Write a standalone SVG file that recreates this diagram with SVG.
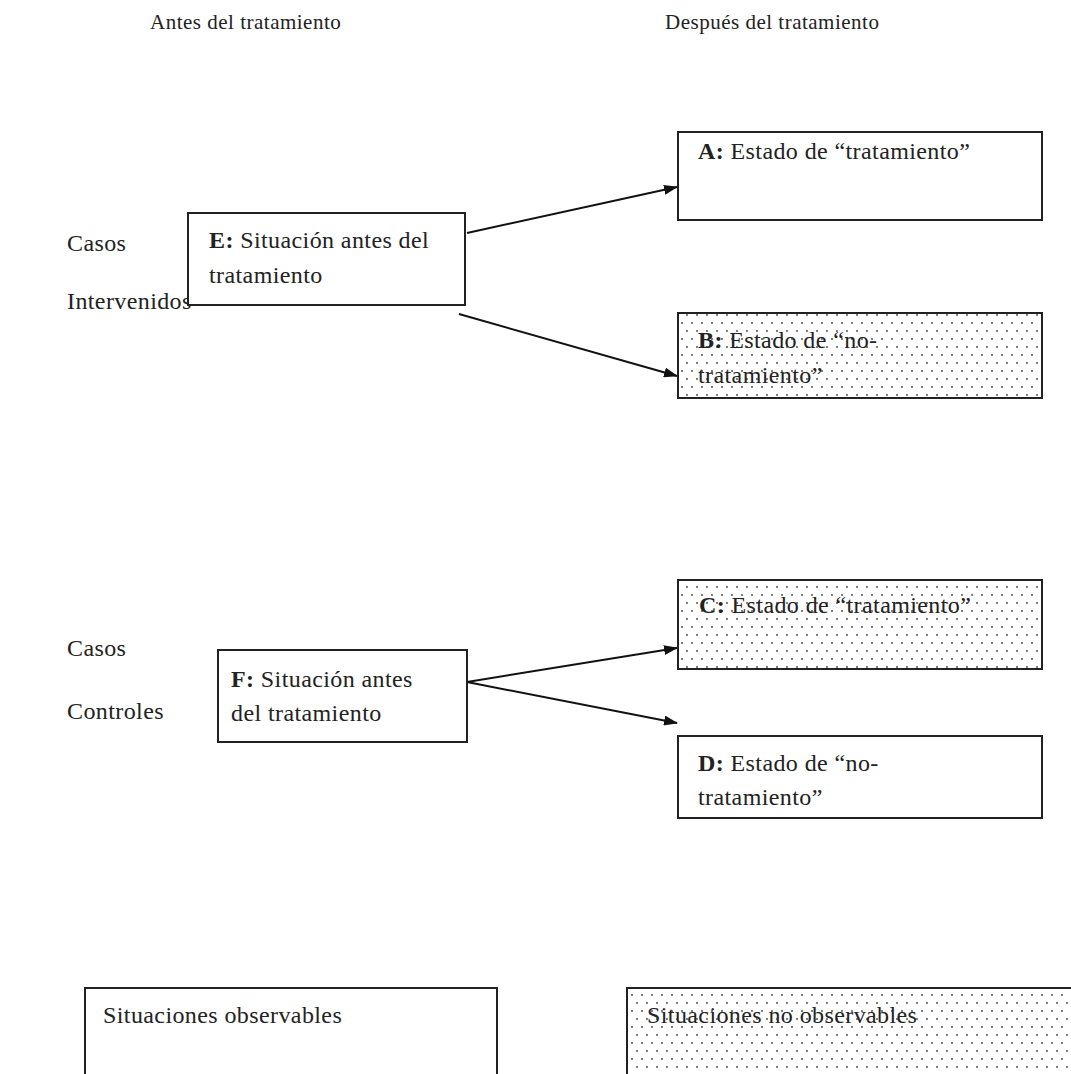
<svg xmlns="http://www.w3.org/2000/svg" width="1071" height="1074" viewBox="0 0 1071 1074">
<style>
text{font-family:"Liberation Serif","Times New Roman",serif;font-size:24px;letter-spacing:0.4px;fill:#222}
.h{font-size:21px;letter-spacing:0.5px}
.box{fill:#fff;stroke:#222;stroke-width:2}
.dot{fill:url(#dots);stroke:#222;stroke-width:2}
.conn{stroke:#111;stroke-width:2;fill:none;marker-end:url(#ah)}
.b{font-weight:bold}
</style>
<defs>
<pattern id="dots" width="10" height="16" patternUnits="userSpaceOnUse">
<rect width="10" height="16" fill="#fff"/>
<circle cx="2" cy="3" r="0.9" fill="#444"/>
<circle cx="7" cy="11" r="0.9" fill="#444"/>
</pattern>
<marker id="ah" markerWidth="14" markerHeight="10" refX="13" refY="5" orient="auto" markerUnits="userSpaceOnUse">
<path d="M0,0 L14,5 L0,10 Z" fill="#111"/>
</marker>
</defs>
<g id="headers">
<text class="h" x="150" y="29">Antes del tratamiento</text>
<text class="h" x="665" y="29">Después del tratamiento</text>
</g>
<g id="labels">
<text x="67" y="251">Casos</text>
<text x="67" y="309">Intervenidos</text>
<text x="67" y="656">Casos</text>
<text x="67" y="719">Controles</text>
</g>
<g id="connectors">
<line class="conn" x1="467" y1="233" x2="677" y2="187"/>
<line class="conn" x1="459" y1="314" x2="677" y2="376"/>
<line class="conn" x1="467" y1="682" x2="677" y2="648"/>
<line class="conn" x1="467" y1="682" x2="677" y2="723"/>
</g>
<g id="nodeE">
<rect class="box" x="188" y="213" width="277" height="92"/>
<text x="209" y="248"><tspan class="b">E:</tspan> Situación antes del</text>
<text x="209" y="283">tratamiento</text>
</g>
<g id="nodeA">
<rect class="box" x="678" y="132" width="364" height="88"/>
<text x="698" y="159"><tspan class="b">A:</tspan> Estado de “tratamiento”</text>
</g>
<g id="nodeB">
<rect class="dot" x="678" y="313" width="364" height="85"/>
<text x="698" y="348"><tspan class="b">B:</tspan> Estado de “no-</text>
<text x="698" y="383">tratamiento”</text>
</g>
<g id="nodeF">
<rect class="box" x="218" y="650" width="249" height="92"/>
<text x="231" y="687"><tspan class="b">F:</tspan> Situación antes</text>
<text x="231" y="721">del tratamiento</text>
</g>
<g id="nodeC">
<rect class="dot" x="678" y="580" width="364" height="89"/>
<text x="699" y="613"><tspan class="b">C:</tspan> Estado de “tratamiento”</text>
</g>
<g id="nodeD">
<rect class="box" x="678" y="736" width="364" height="82"/>
<text x="698" y="771"><tspan class="b">D:</tspan> Estado de “no-</text>
<text x="698" y="805">tratamiento”</text>
</g>
<g id="legendObs">
<rect class="box" x="85" y="988" width="412" height="100"/>
<text x="103" y="1023">Situaciones observables</text>
</g>
<g id="legendNoObs">
<rect class="dot" x="627" y="988" width="460" height="100"/>
<text x="647" y="1023">Situaciones no observables</text>
</g>
</svg>
